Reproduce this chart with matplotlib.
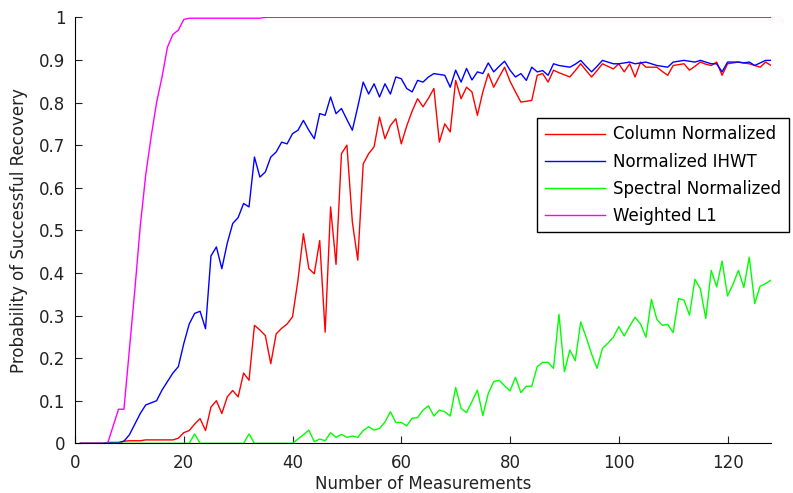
import numpy as np
import matplotlib
matplotlib.use("Agg")
import matplotlib.pyplot as plt

# number of measurements 1..128
n_meas = np.arange(1, 129)

column_normalized = [
    0, 0, 0, 0, 0, 0, 0, 0, 0.005, 0.006,
    0.006, 0.006, 0.008, 0.008, 0.008, 0.008, 0.008, 0.008, 0.012, 0.025,
    0.03, 0.045, 0.058, 0.03, 0.085, 0.1, 0.07, 0.109, 0.124, 0.109,
    0.165, 0.148, 0.277, 0.266, 0.253, 0.187, 0.257, 0.27, 0.28, 0.297,
    0.383, 0.492, 0.41, 0.398, 0.476, 0.261, 0.555, 0.42, 0.68, 0.70,
    0.52, 0.43, 0.656, 0.68, 0.696, 0.766, 0.715, 0.746, 0.762, 0.703,
    0.745, 0.78, 0.809, 0.79, 0.81, 0.833, 0.707, 0.75, 0.731, 0.852,
    0.809, 0.836, 0.825, 0.77, 0.825, 0.868, 0.836, 0.86, 0.883, 0.85,
    0.825, 0.801, 0.803, 0.805, 0.864, 0.868, 0.848, 0.876, 0.87, 0.865,
    0.86, 0.875, 0.891, 0.875, 0.86, 0.875, 0.891, 0.885, 0.879, 0.891,
    0.872, 0.891, 0.86, 0.895, 0.883, 0.883, 0.883, 0.873, 0.864, 0.887,
    0.889, 0.891, 0.876, 0.885, 0.895, 0.89, 0.887, 0.895, 0.864, 0.891,
    0.893, 0.895, 0.893, 0.891, 0.887, 0.883, 0.895, 0.887,
]

normalized_ihwt = [
    0, 0, 0, 0, 0, 0.002, 0.002, 0.002, 0.005, 0.02,
    0.045, 0.07, 0.09, 0.095, 0.1, 0.125, 0.145, 0.165, 0.18, 0.234,
    0.28, 0.305, 0.31, 0.269, 0.44, 0.461, 0.41, 0.47, 0.516, 0.53,
    0.563, 0.555, 0.672, 0.625, 0.637, 0.672, 0.684, 0.707, 0.703, 0.727,
    0.735, 0.758, 0.735, 0.715, 0.774, 0.77, 0.813, 0.774, 0.786, 0.76,
    0.735, 0.79, 0.848, 0.82, 0.844, 0.813, 0.844, 0.82, 0.86, 0.856,
    0.833, 0.825, 0.852, 0.848, 0.86, 0.868, 0.866, 0.864, 0.836, 0.876,
    0.848, 0.88, 0.853, 0.872, 0.868, 0.893, 0.872, 0.885, 0.897, 0.876,
    0.86, 0.868, 0.852, 0.883, 0.872, 0.875, 0.864, 0.891, 0.887, 0.885,
    0.883, 0.89, 0.899, 0.885, 0.872, 0.885, 0.899, 0.895, 0.891, 0.891,
    0.893, 0.895, 0.891, 0.893, 0.895, 0.891, 0.887, 0.885, 0.883, 0.895,
    0.897, 0.899, 0.897, 0.895, 0.899, 0.895, 0.891, 0.891, 0.872, 0.895,
    0.895, 0.895, 0.893, 0.895, 0.887, 0.893, 0.899, 0.899,
]

spectral_normalized = [
    0, 0, 0, 0, 0, 0, 0, 0, 0, 0,
    0, 0, 0, 0, 0, 0, 0, 0, 0, 0,
    0, 0.022, 0, 0, 0, 0, 0, 0, 0, 0,
    0, 0.022, 0, 0, 0, 0, 0, 0, 0, 0,
    0.01, 0.02, 0.031, 0.004, 0.01, 0.006, 0.025, 0.014, 0.021, 0.014,
    0.017, 0.014, 0.03, 0.039, 0.031, 0.035, 0.05, 0.074, 0.049, 0.049,
    0.041, 0.059, 0.06, 0.078, 0.088, 0.064, 0.078, 0.074, 0.064, 0.131,
    0.082, 0.072, 0.098, 0.125, 0.065, 0.117, 0.145, 0.148, 0.135, 0.123,
    0.155, 0.119, 0.134, 0.134, 0.18, 0.19, 0.19, 0.176, 0.303, 0.168,
    0.219, 0.194, 0.285, 0.249, 0.21, 0.176, 0.223, 0.235, 0.249, 0.274,
    0.252, 0.275, 0.296, 0.28, 0.249, 0.338, 0.291, 0.277, 0.279, 0.26,
    0.34, 0.336, 0.301, 0.385, 0.363, 0.293, 0.406, 0.367, 0.428, 0.346,
    0.373, 0.406, 0.366, 0.437, 0.328, 0.369, 0.375, 0.383,
]

weighted_l1 = [0, 0, 0, 0, 0, 0, 0.04, 0.08, 0.08, 0.22,
               0.36, 0.51, 0.63, 0.72, 0.80, 0.86, 0.93, 0.96, 0.97, 0.995]
weighted_l1 += [0.998] * 14 + [1.0] * 94

labels = ["Column Normalized", "Normalized IHWT", "Spectral Normalized", "Weighted L1"]
colors = ["#ff0000", "#0000ff", "#00ff00", "#ff00ff"]

plt.rcParams['font.family'] = ['DejaVu Sans']

fig = plt.figure(figsize=(7.93, 4.93), dpi=100)
ax = fig.add_axes([0.0946, 0.1008, 0.8777, 0.864])

for ys, lab, c in zip([column_normalized, normalized_ihwt, spectral_normalized, weighted_l1], labels, colors):
    ax.plot(n_meas, ys, color=c, lw=1.0, label=lab)

ax.set_xlim(0, 128)
ax.set_ylim(0, 1)
ax.set_xticks(np.arange(0, 121, 20))
ax.set_yticks(np.arange(0, 1.01, 0.1))
ax.set_yticklabels(["0", "0.1", "0.2", "0.3", "0.4", "0.5", "0.6", "0.7", "0.8", "0.9", "1"])
ax.spines['top'].set_visible(False)
ax.spines['right'].set_visible(False)
ax.tick_params(direction='in', length=5, labelsize=12, colors='#222222')
ax.tick_params(axis='y', pad=7)
ax.tick_params(axis='x', pad=8)
ax.set_xlabel("Number of Measurements", fontsize=12, color='#222222', labelpad=2)
ax.set_ylabel("Probability of Successful Recovery", fontsize=12, color='#222222', labelpad=8)

leg = ax.legend(loc='upper left', bbox_to_anchor=(0.664, 0.764), fontsize=12,
                handlelength=3.6, handletextpad=0.5, fancybox=False, framealpha=1,
                edgecolor='black', borderaxespad=0, labelspacing=0.55, borderpad=0.45)
leg.get_frame().set_linewidth(1.0)

fig.savefig("out.png", dpi=100)
